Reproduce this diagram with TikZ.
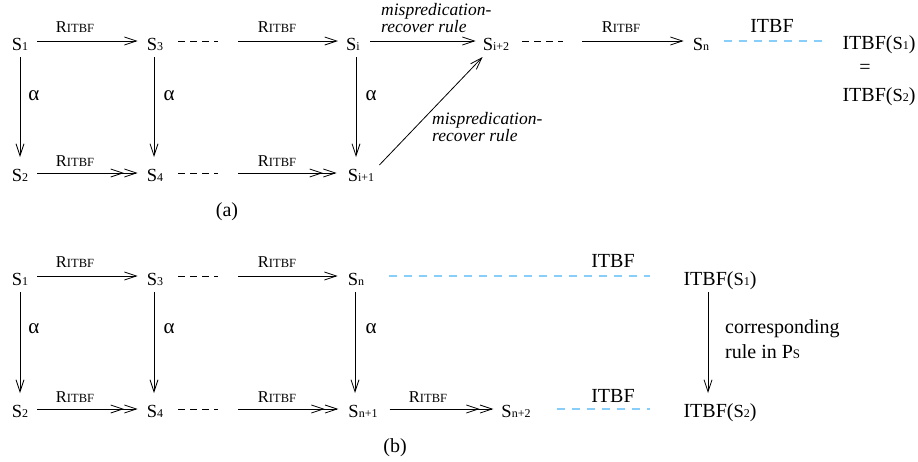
\documentclass[tikz,border=0pt]{standalone}
\usepackage{fontspec}
\setmainfont{Liberation Serif}
\usetikzlibrary{arrows.meta,calc}
\definecolor{itbfblue}{RGB}{135,206,250}
\newcommand{\Sst}[1]{{\fontsize{18.5}{18}\selectfont S}{\fontsize{12}{12}\selectfont #1}}
\newcommand{\Ritbf}{{\fontsize{16.5}{16}\selectfont R}{\fontsize{12.5}{12}\selectfont ITBF}}
\begin{document}
\begin{tikzpicture}[x=1pt,y=-1pt,
  every node/.style={inner sep=0pt, font=\fontsize{20}{23}\selectfont},
  st/.style={anchor=base},
  lbl/.style={anchor=base},
  alp/.style={anchor=base, font=\fontsize{21}{23}\selectfont},
  ln/.style={line width=0.8pt},
  arr/.style={ln, -{Straight Barb[length=12pt,width=8pt]}},
  darr/.style={ln, -{Straight Barb[length=12pt,width=8pt]Straight Barb[length=12pt,width=8pt]}},
  dsh/.style={ln, dash pattern=on 7pt off 5pt},
  bdsh/.style={line width=1.2pt, itbfblue, dash pattern=on 8pt off 7pt},
  mis/.style={anchor=north west, align=left, font=\fontsize{17.5}{17}\selectfont\itshape},
  corr/.style={anchor=north west, align=left, font=\fontsize{20}{25}\selectfont}]
\useasboundingbox (0,0) rectangle (918,461);

% ---------------- (a) ----------------
\node[st] (s1) at (20,50) {\Sst{1}};
\node[st] (s3) at (155,50) {\Sst{3}};
\node[st] (si) at (353,50) {\Sst{i}};
\node[st] (si2) at (496,50) {\Sst{i+2}};
\node[st] (sn) at (701,50) {\Sst{n}};
\node[st] (it1) at (879,49) {ITBF(\Sst{1})};
\node[st] (eq) at (865,73) {=};
\node[st] (it2) at (879,101) {ITBF(\Sst{2})};
\node[st] (s2) at (20,181) {\Sst{2}};
\node[st] (s4) at (155,181) {\Sst{4}};
\node[st] (si1) at (361,181) {\Sst{i+1}};

\coordinate (da1) at (218,41);
\coordinate (da2) at (238,41);
\coordinate (da3) at (563,41);
\coordinate (da4) at (582,41);
\coordinate (da5) at (218,173);
\coordinate (da6) at (238,173);

\node[lbl] (ra1) at (75,32) {\Ritbf};
\node[lbl] (ra2) at (277,32) {\Ritbf};
\node[lbl] (ra3) at (621,32) {\Ritbf};
\node[lbl] (ra4) at (75,166) {\Ritbf};
\node[lbl] (ra5) at (277,166) {\Ritbf};
\node[mis] (ma1) at (381,3) {mispredication-\\recover rule};
\node[mis] (ma2) at (432,112) {mispredication-\\recover rule};
\node[lbl] (ia) at (772,32) {ITBF};
\node[alp] (aa1) at (34,100) {α};
\node[alp] (aa2) at (169,100) {α};
\node[alp] (aa3) at (371,100) {α};
\node[lbl] (capa) at (227,216) {(a)};

\draw[arr] ($(s1.base east)+(9,-9)$) -- ($(s3.base west)+(-9,-9)$);
\draw[dsh] ($(s3.base east)+(15,-9)$) -- (da1);
\draw[arr] (da2) -- ($(si.base west)+(-8,-9)$);
\draw[arr] ($(si.base east)+(10,-9)$) -- ($(si2.base west)+(-7,-9)$);
\draw[dsh] ($(si2.base east)+(13,-9)$) -- (da3);
\draw[arr] (da4) -- ($(sn.base west)+(-9,-9)$);
\draw[bdsh] ($(sn.base east)+(15,-9)$) -- ($(it1.base west)+(-20,-8)$);

\draw[darr] ($(s2.base east)+(9,-8)$) -- ($(s4.base west)+(-9,-8)$);
\draw[dsh] ($(s4.base east)+(15,-8)$) -- (da5);
\draw[darr] (da6) -- ($(si1.base west)+(-11,-8)$);

\draw[arr] ($(s1.base)+(0,7)$) -- ($(s2.base)+(0,-24)$);
\draw[arr] ($(s3.base)+(-1,7)$) -- ($(s4.base)+(-1,-24)$);
\draw[arr] ($(si.base)+(3,7)$) -- ($(si.base |- si1.base)+(3,-24)$);
\draw[arr] ($(si1.base east)+(5,-16)$) -- ($(si2.base west)+(0,7)$);

% ---------------- (b) ----------------
\node[st] (t1) at (20,285) {\Sst{1}};
\node[st] (t3) at (155,285) {\Sst{3}};
\node[st] (tn) at (356,285) {\Sst{n}};
\node[st] (u1) at (720,285) {ITBF(\Sst{1})};
\node[st] (t2) at (20,417) {\Sst{2}};
\node[st] (t4) at (155,417) {\Sst{4}};
\node[st] (tn1) at (363,417) {\Sst{n+1}};
\node[st] (tn2) at (516,417) {\Sst{n+2}};
\node[st] (u2) at (720,417) {ITBF(\Sst{2})};

\coordinate (db1) at (218,276);
\coordinate (db2) at (238,276);
\coordinate (db3) at (218,409);
\coordinate (db4) at (238,409);

\node[lbl] (rb1) at (75,267) {\Ritbf};
\node[lbl] (rb2) at (277,267) {\Ritbf};
\node[lbl] (rb3) at (75,402) {\Ritbf};
\node[lbl] (rb4) at (277,402) {\Ritbf};
\node[lbl] (rb5) at (428,402) {\Ritbf};
\node[alp] (ab1) at (34,333) {α};
\node[alp] (ab2) at (169,333) {α};
\node[alp] (ab3) at (371,333) {α};
\node[lbl] (ib1) at (613,267) {ITBF};
\node[lbl] (ib2) at (613,402) {ITBF};
\node[corr] (cr) at (725,319) {corresponding\\rule in P{\fontsize{13}{12}\selectfont S}};
\node[lbl] (capb) at (395,452) {(b)};

\draw[arr] ($(t1.base east)+(9,-9)$) -- ($(t3.base west)+(-9,-9)$);
\draw[dsh] ($(t3.base east)+(15,-9)$) -- (db1);
\draw[arr] (db2) -- ($(tn.base west)+(-10,-9)$);
\draw[bdsh] ($(tn.base east)+(25,-9)$) -- ($(u1.base west)+(-33,-9)$);

\draw[darr] ($(t2.base east)+(9,-8)$) -- ($(t4.base west)+(-9,-8)$);
\draw[dsh] ($(t4.base east)+(15,-8)$) -- (db3);
\draw[darr] (db4) -- ($(tn1.base west)+(-10,-8)$);
\draw[darr] ($(tn1.base east)+(12,-8)$) -- ($(tn2.base west)+(-8,-8)$);
\draw[bdsh] ($(tn2.base east)+(26,-8)$) -- ($(u2.base west)+(-33,-8)$);

\draw[arr] ($(t1.base)+(0,7)$) -- ($(t2.base)+(0,-24)$);
\draw[arr] ($(t3.base)+(-1,7)$) -- ($(t4.base)+(-1,-24)$);
\draw[arr] ($(tn.base)+(-1,7)$) -- ($(tn.base |- tn1.base)+(-1,-24)$);
\draw[arr] ($(u1.base)+(-12,7)$) -- ($(u2.base)+(-12,-24)$);
\end{tikzpicture}
\end{document}
